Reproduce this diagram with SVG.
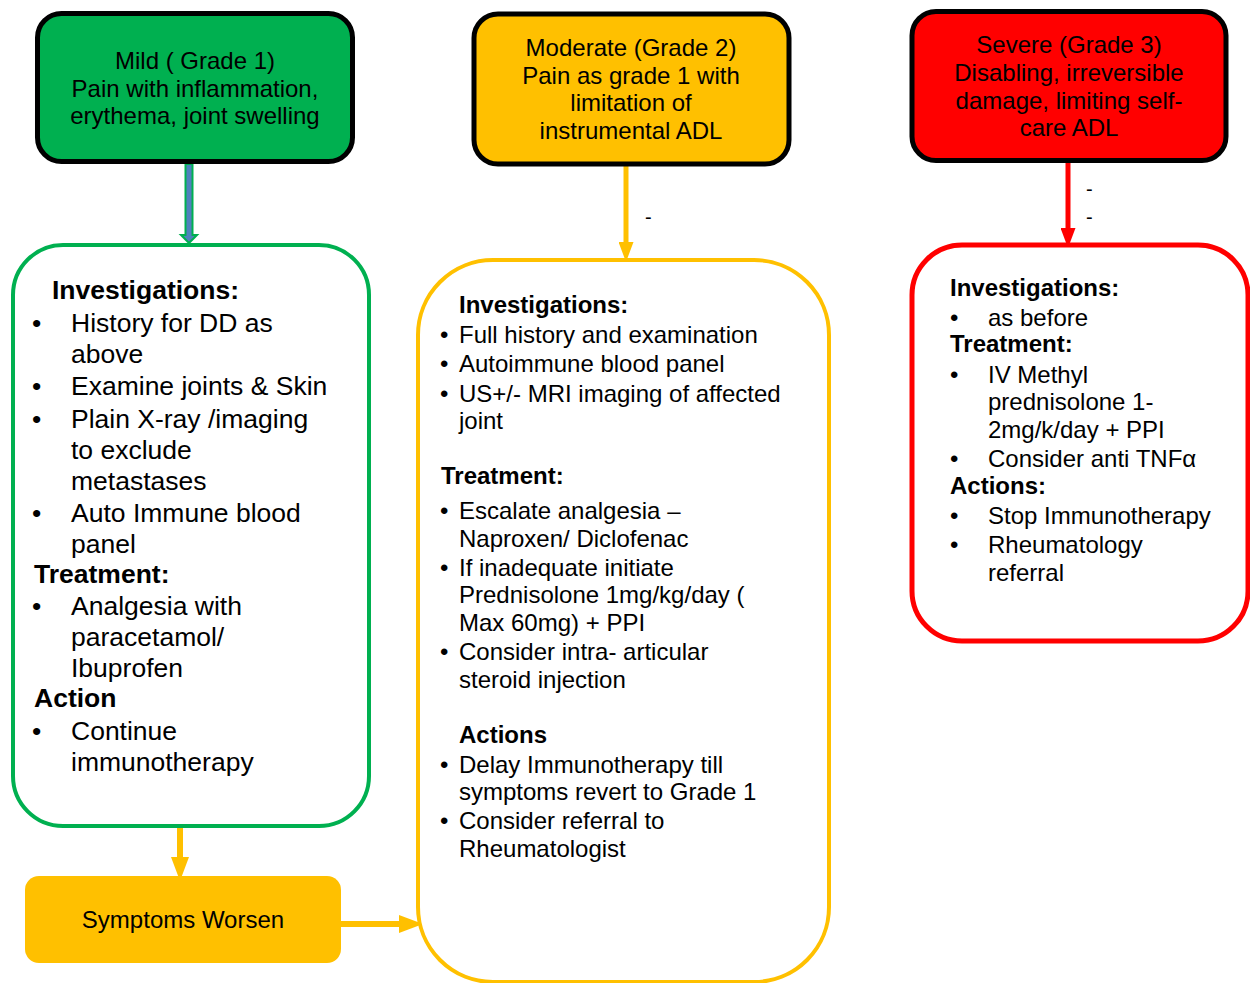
<svg xmlns="http://www.w3.org/2000/svg" width="1250" height="983" viewBox="0 0 1250 983">
<style>
text{font-family:"Liberation Sans",Arial,sans-serif;fill:#000}
.hd{font-size:24px;text-anchor:middle}
.g{font-size:26.5px}
.y{font-size:24px}
.r{font-size:24px}
.b{font-weight:bold}
.dash{font-size:20px}
</style>
<defs>
<marker id="ay" markerWidth="4" markerHeight="3" refX="2" refY="1.5" orient="auto" markerUnits="strokeWidth"><path d="M0,0 L4,1.5 L0,3 Z" fill="#FFC000"/></marker>
<marker id="ar" markerWidth="4" markerHeight="3" refX="2" refY="1.5" orient="auto" markerUnits="strokeWidth"><path d="M0,0 L4,1.5 L0,3 Z" fill="#FF0000"/></marker>
</defs>
<rect width="1250" height="983" fill="#fff"/>
<g id="connectors">
<path d="M185.5,164 V235 H181 L189,243 L197,235 H192.5 V164 Z" fill="#4F81BD" stroke="#00B050" stroke-width="2"/>
<line x1="626" y1="166" x2="626" y2="252" stroke="#FFC000" stroke-width="5" marker-end="url(#ay)"/>
<text class="dash" x="645" y="224">-</text>
<line x1="1068" y1="163" x2="1068" y2="238" stroke="#FF0000" stroke-width="5" marker-end="url(#ar)"/>
<text class="dash" x="1086" y="196">-</text>
<text class="dash" x="1086" y="224">-</text>
<line x1="180" y1="827" x2="180" y2="869" stroke="#FFC000" stroke-width="6" marker-end="url(#ay)"/>
<line x1="341" y1="924" x2="411" y2="924" stroke="#FFC000" stroke-width="6" marker-end="url(#ay)"/>
</g>
<g id="mild">
<rect x="37.5" y="13.5" width="315" height="148" rx="24" fill="#00B050" stroke="#000" stroke-width="5"/>
<text class="hd" x="195" y="69">Mild ( Grade 1)</text>
<text class="hd" x="195" y="97">Pain with inflammation,</text>
<text class="hd" x="195" y="124">erythema, joint swelling</text>
</g>
<g id="moderate">
<rect x="474" y="14" width="315" height="150" rx="24" fill="#FFC000" stroke="#000" stroke-width="5"/>
<text class="hd" x="631" y="56">Moderate (Grade 2)</text>
<text class="hd" x="631" y="84">Pain as grade 1 with</text>
<text class="hd" x="631" y="111">limitation of</text>
<text class="hd" x="631" y="139">instrumental ADL</text>
</g>
<g id="severe">
<rect x="912" y="11.5" width="314" height="149" rx="24" fill="#FF0000" stroke="#000" stroke-width="5"/>
<text class="hd" x="1069" y="53">Severe (Grade 3)</text>
<text class="hd" x="1069" y="81">Disabling, irreversible</text>
<text class="hd" x="1069" y="109">damage, limiting self-</text>
<text class="hd" x="1069" y="136">care ADL</text>
</g>
<g id="mild-care">
<rect x="13" y="245" width="356" height="581" rx="50" fill="#fff" stroke="#00B050" stroke-width="4"/>
<text class="g b" x="52" y="299">Investigations:</text>
<text class="g" x="32" y="332">•</text><text class="g" x="71" y="332">History for DD as</text>
<text class="g" x="71" y="363">above</text>
<text class="g" x="32" y="395">•</text><text class="g" x="71" y="395">Examine joints &amp; Skin</text>
<text class="g" x="32" y="428">•</text><text class="g" x="71" y="428">Plain X-ray /imaging</text>
<text class="g" x="71" y="459">to exclude</text>
<text class="g" x="71" y="490">metastases</text>
<text class="g" x="32" y="522">•</text><text class="g" x="71" y="522">Auto Immune blood</text>
<text class="g" x="71" y="553">panel</text>
<text class="g b" x="34" y="583">Treatment:</text>
<text class="g" x="32" y="615">•</text><text class="g" x="71" y="615">Analgesia with</text>
<text class="g" x="71" y="646">paracetamol/</text>
<text class="g" x="71" y="677">Ibuprofen</text>
<text class="g b" x="34" y="707">Action</text>
<text class="g" x="32" y="740">•</text><text class="g" x="71" y="740">Continue</text>
<text class="g" x="71" y="771">immunotherapy</text>
</g>
<g id="moderate-care">
<rect x="418" y="260" width="411" height="722" rx="75" fill="#fff" stroke="#FFC000" stroke-width="4"/>
<text class="y b" x="459" y="313">Investigations:</text>
<text class="y" x="440" y="343">•</text><text class="y" x="459" y="343">Full history and examination</text>
<text class="y" x="440" y="372">•</text><text class="y" x="459" y="372">Autoimmune blood panel</text>
<text class="y" x="440" y="402">•</text><text class="y" x="459" y="402">US+/- MRI imaging of affected</text>
<text class="y" x="459" y="429">joint</text>
<text class="y b" x="441" y="484">Treatment:</text>
<text class="y" x="440" y="519">•</text><text class="y" x="459" y="519">Escalate analgesia –</text>
<text class="y" x="459" y="547">Naproxen/ Diclofenac</text>
<text class="y" x="440" y="576">•</text><text class="y" x="459" y="576">If inadequate initiate</text>
<text class="y" x="459" y="603">Prednisolone 1mg/kg/day (</text>
<text class="y" x="459" y="631">Max 60mg) + PPI</text>
<text class="y" x="440" y="660">•</text><text class="y" x="459" y="660">Consider intra- articular</text>
<text class="y" x="459" y="688">steroid injection</text>
<text class="y b" x="459" y="743">Actions</text>
<text class="y" x="440" y="773">•</text><text class="y" x="459" y="773">Delay Immunotherapy till</text>
<text class="y" x="459" y="800">symptoms revert to Grade 1</text>
<text class="y" x="440" y="829">•</text><text class="y" x="459" y="829">Consider referral to</text>
<text class="y" x="459" y="857">Rheumatologist</text>
</g>
<g id="severe-care">
<rect x="912" y="245" width="336" height="396" rx="50" fill="#fff" stroke="#FF0000" stroke-width="5"/>
<text class="r b" x="950" y="296">Investigations:</text>
<text class="r" x="950" y="326">•</text><text class="r" x="988" y="326">as before</text>
<text class="r b" x="950" y="352">Treatment:</text>
<text class="r" x="950" y="383">•</text><text class="r" x="988" y="383">IV Methyl</text>
<text class="r" x="988" y="410">prednisolone 1-</text>
<text class="r" x="988" y="438">2mg/k/day + PPI</text>
<text class="r" x="950" y="467">•</text><text class="r" x="988" y="467">Consider anti TNFα</text>
<text class="r b" x="950" y="494">Actions:</text>
<text class="r" x="950" y="524">•</text><text class="r" x="988" y="524">Stop Immunotherapy</text>
<text class="r" x="950" y="553">•</text><text class="r" x="988" y="553">Rheumatology</text>
<text class="r" x="988" y="581">referral</text>
</g>
<g id="worsen">
<rect x="25" y="876" width="316" height="87" rx="14" fill="#FFC000"/>
<text class="hd" x="183" y="928">Symptoms Worsen</text>
</g>
</svg>
